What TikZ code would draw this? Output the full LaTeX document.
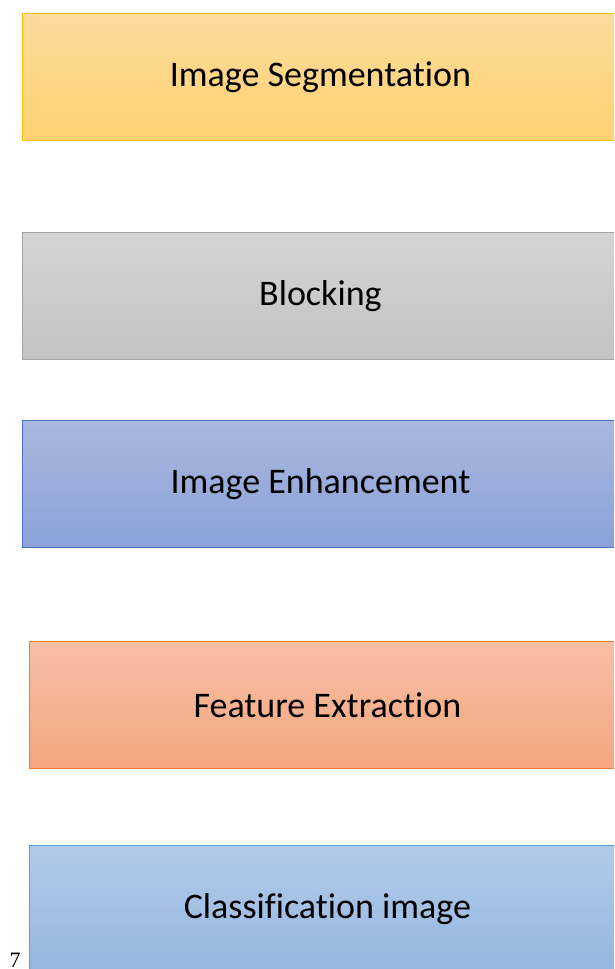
\documentclass[tikz,border=0pt]{standalone}
\usepackage{fontspec}
\setmainfont{Carlito}[Ligatures=NoCommon]
\newfontfamily\pagefont{Liberation Serif}
\usepackage{tikz}

\definecolor{segtop}{HTML}{FDDA9C}
\definecolor{segbot}{HTML}{FED371}
\definecolor{segline}{HTML}{FFC000}
\definecolor{blktop}{HTML}{D4D4D4}
\definecolor{blkbot}{HTML}{C3C3C3}
\definecolor{blkline}{HTML}{A5A5A5}
\definecolor{enhtop}{HTML}{AAB7DF}
\definecolor{enhbot}{HTML}{8AA2D8}
\definecolor{enhline}{HTML}{4472C4}
\definecolor{feattop}{HTML}{F7BFA5}
\definecolor{featbot}{HTML}{F4A67F}
\definecolor{featline}{HTML}{ED7D31}
\definecolor{clstop}{HTML}{B2CAE9}
\definecolor{clsbot}{HTML}{95B6E0}
\definecolor{clsline}{HTML}{5B9BD5}

\tikzset{
	stagebox/.style={rectangle, anchor=north west, minimum width=596pt, minimum height=127pt, line width=0.9pt, font=\fontsize{36}{40}\selectfont, text=black, inner sep=0pt},
}

\begin{document}
\begin{tikzpicture}[x=1pt,y=-1pt]
	\useasboundingbox (0,0) rectangle (614,969);
	\clip (0,0) rectangle (614,969);
	\node[stagebox, draw=segline, top color=segtop, bottom color=segbot] (seg) at (22,13) {Image Segmentation};
	\node[stagebox, draw=blkline, top color=blktop, bottom color=blkbot] (blk) at (22,232) {Blocking};
	\node[stagebox, draw=enhline, top color=enhtop, bottom color=enhbot] (enh) at (22,420) {Image Enhancement};
	\node[stagebox, draw=featline, top color=feattop, bottom color=featbot] (feat) at (29,641) {Feature Extraction};
	\node[stagebox, draw=clsline, top color=clstop, bottom color=clsbot] (cls) at (29,845) {Classification image};
	\node[font=\pagefont\fontsize{22}{24}\selectfont, anchor=base, inner sep=0pt] (pg) at (15,967.5) {7};
\end{tikzpicture}
\end{document}
